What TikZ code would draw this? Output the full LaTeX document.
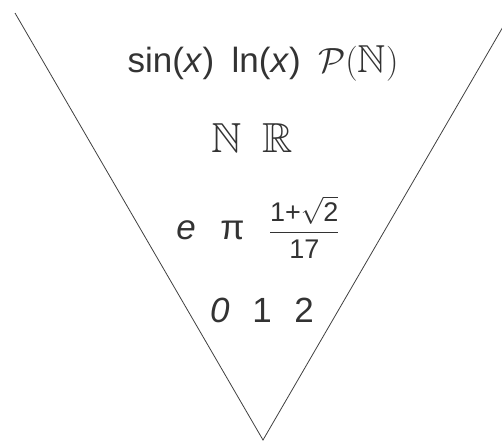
\RequirePackage{fix-cm}
\documentclass[tikz,border=0pt]{standalone}
\usepackage{amsmath,amssymb}
\DeclareFontFamily{U}{msb}{}
\DeclareFontShape{U}{msb}{m}{n}{<-> msbm10}{}
\usepackage{fontspec}
\setmainfont{Liberation Sans}
\tikzset{
  rowtext/.style={font=\fontsize{35}{42}\selectfont, text=black!80, inner sep=0pt},
  vline/.style={line width=0.8pt, draw=black!75}
}
\begin{document}
\begin{tikzpicture}[x=1pt,y=-1pt]
\useasboundingbox (0,0) rectangle (502,445);
\coordinate (L) at (15,13);
\coordinate (A) at (263,440);
\coordinate (R) at (511,13);
\begin{scope}
\clip (0,0) rectangle (502,445);
\draw[vline] (L) -- (A) -- (R);
\end{scope}
\node[rowtext] (r1) at (263,63) {sin(\textit{x})\enspace ln(\textit{x})\enspace $\mathcal{P}($\fontsize{39}{42}\selectfont$\mathbb{N}$\fontsize{35}{42}\selectfont$)$};
\node[rowtext, font=\fontsize{42}{48}\selectfont] (r2) at (252,138) {$\mathbb{N}\enspace\mathbb{R}$};
\node[rowtext] (r3) at (258,227) {\textit{e}\hspace{0.7em}π\hspace{0.7em}{\fontsize{27}{32}\selectfont$\dfrac{\text{1+}\sqrt{\text{2}}}{\text{17}}$}};
\node[rowtext] (r4) at (262,310) {\textit{0}\hspace{0.65em}1\hspace{0.65em}2};
\end{tikzpicture}
\end{document}
